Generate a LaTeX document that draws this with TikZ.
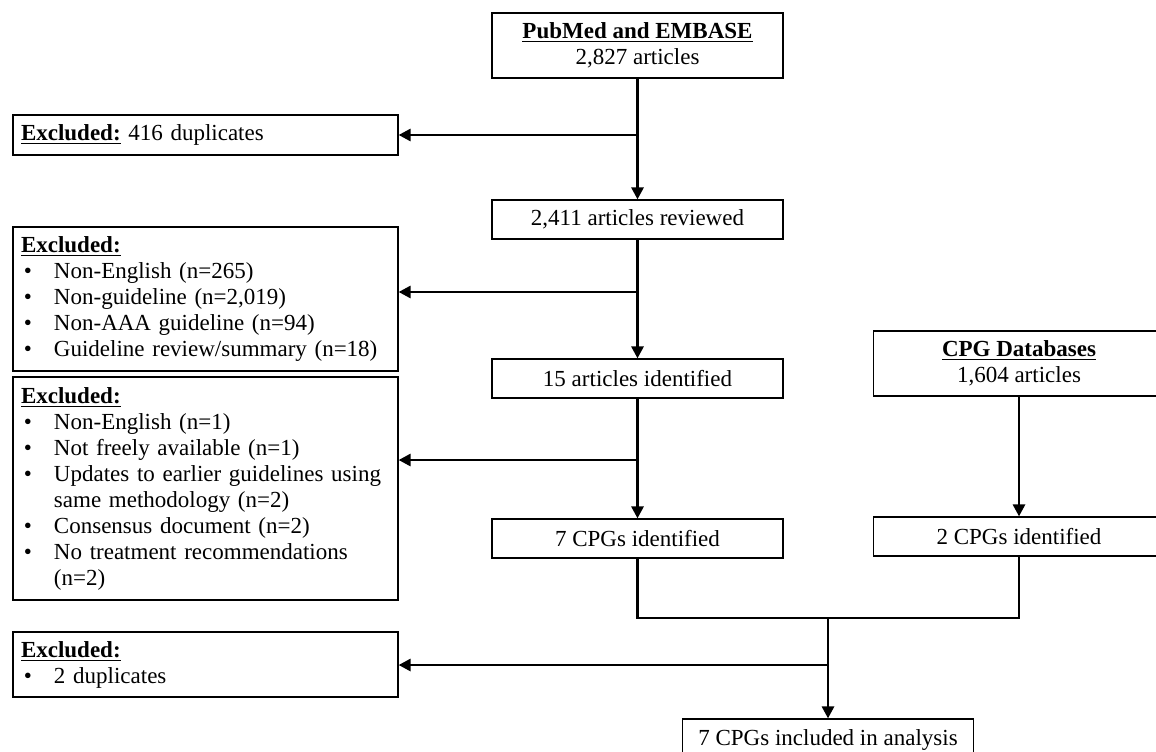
\documentclass[tikz,border=0pt]{standalone}
\usepackage{fontspec}
\setmainfont{Liberation Serif}
\usetikzlibrary{arrows.meta}

\tikzset{
  box/.style={draw,line width=0.6pt,minimum height=#1,inner xsep=4pt,inner ysep=0pt,
    font=\fontsize{11.5}{13}\selectfont},
  flowbox/.style={box=#1,minimum width=145.5pt,align=center},
  exbox/.style={box=#1,text width=184.5pt,align=left},
  flow/.style={line width=1.4pt,-{Triangle[length=6pt,width=6pt]}},
  link/.style={line width=1.2pt}
}
\newcommand{\itm}{\makebox[16.5pt][l]{\hspace{1.5pt}\textbullet}}
\newcommand{\exhead}{\underline{\textbf{Excluded:}}}

\begin{document}
\begin{tikzpicture}[x=0.5pt,y=-0.5pt]
\useasboundingbox (0,0) rectangle (1156,751);
            % Main column
\node[flowbox=32.5pt] (pub) at (637.5,45.5) {\underline{\textbf{PubMed and EMBASE}}\\2,827 articles};
\node[flowbox=19.5pt] (rev) at (637.5,219.5) {2,411 articles reviewed};
\node[flowbox=19.5pt] (id15) at (637.5,378.5) {15 articles identified};
\node[flowbox=19.5pt] (cpg7) at (637.5,538.5) {7 CPGs identified};
            % Side column
\node[flowbox=32.5pt] (cpgdb) at (1019,363.5) {\underline{\textbf{CPG Databases}}\\1,604 articles};
\node[flowbox=19.5pt] (cpg2) at (1019,536.5) {2 CPGs identified};
\node[flowbox=21pt] (final) at (828,740) {7 CPGs included in analysis};
            % Exclusions
\node[exbox=20pt] (ex1) at (205.5,135) {\exhead{} 416 duplicates};
\node[exbox=72pt] (ex2) at (205.5,299) {\exhead\\
  \itm Non-English (n=265)\\
  \itm Non-guideline (n=2,019)\\
  \itm Non-AAA guideline (n=94)\\
  \itm Guideline review/summary (n=18)};
\node[exbox=111.5pt] (ex3) at (205.5,488.5) {\exhead\\
  \itm Non-English (n=1)\\
  \itm Not freely available (n=1)\\
  \itm Updates to earlier guidelines using\\
  \hspace*{16.5pt}same methodology (n=2)\\
  \itm Consensus document (n=2)\\
  \itm No treatment recommendations\\
  \hspace*{16.5pt}(n=2)};
\node[exbox=32.5pt] (ex4) at (205.5,664.5) {\exhead\\
  \itm 2 duplicates};
            % Junctions
\coordinate (j1) at (637.5,135);
\coordinate (j2) at (637.5,292);
\coordinate (j3) at (637.5,460);
\coordinate (m) at (828,618);
\coordinate (j4) at (828,665);
            % Connectors
\draw[flow] (pub) -- (rev);
\draw[flow] (rev) -- (id15);
\draw[flow] (id15) -- (cpg7);
\draw[flow] (cpgdb) -- (cpg2);
\draw[flow] (j1) -- (j1 -| ex1.east);
\draw[flow] (j2) -- (j2 -| ex2.east);
\draw[flow] (j3) -- (j3 -| ex3.east);
\draw[link] (cpg7.south) |- (m) -| (cpg2.south);
\draw[flow] (m) -- (final);
\draw[flow] (j4) -- (j4 -| ex4.east);
\end{tikzpicture}
\end{document}
